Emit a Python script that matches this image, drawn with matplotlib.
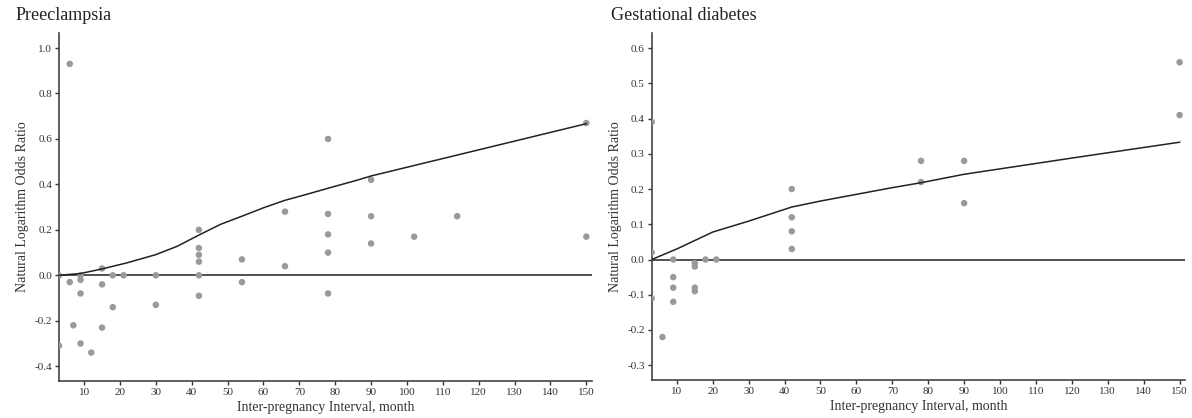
import matplotlib
matplotlib.use("Agg")
import matplotlib.pyplot as plt
import numpy as np

plt.rcParams['font.family'] = ['Liberation Serif', 'DejaVu Serif']

# Preeclampsia data
pe_x = [3, 3, 6, 6, 7, 9, 9, 9, 9, 12, 15, 15, 15, 18, 18, 21, 30, 30,
        42, 42, 42, 42, 42, 42, 54, 54, 66, 66, 78, 78, 78, 78, 78,
        90, 90, 90, 102, 114, 150, 150]
pe_y = [0.0, -0.31, 0.93, -0.03, -0.22, 0.0, -0.02, -0.08, -0.30, -0.34,
        0.03, -0.04, -0.23, 0.0, -0.14, 0.0, 0.0, -0.13,
        0.20, 0.12, 0.09, 0.06, 0.0, -0.09, 0.07, -0.03, 0.28, 0.04,
        0.60, 0.27, 0.18, 0.10, -0.08, 0.42, 0.26, 0.14, 0.17, 0.26, 0.67, 0.17]
pe_curve_x = [3, 9, 15, 22, 30, 36, 42, 48, 54, 60, 66, 72, 78, 86, 90, 120, 150]
pe_curve_y = [0.0, 0.008, 0.028, 0.055, 0.091, 0.128, 0.177, 0.224, 0.26, 0.297,
              0.33, 0.356, 0.383, 0.418, 0.437, 0.552, 0.667]

# Gestational diabetes data
gd_x = [3, 3, 3, 6, 9, 9, 9, 9, 15, 15, 15, 15, 18, 21, 42, 42, 42, 42,
        78, 78, 90, 90, 150, 150]
gd_y = [0.39, 0.02, -0.11, -0.22, 0.0, -0.05, -0.08, -0.12, -0.01, -0.02, -0.08, -0.09,
        0.0, 0.0, 0.20, 0.12, 0.08, 0.03, 0.28, 0.22, 0.28, 0.16, 0.56, 0.41]
gd_curve_x = [3, 10, 20, 30, 42, 50, 60, 70, 78, 90, 120, 150]
gd_curve_y = [0.0, 0.03, 0.078, 0.109, 0.149, 0.166, 0.185, 0.204, 0.218, 0.242, 0.288, 0.333]

x_ticks = [10, 20, 30, 40, 50, 60, 70, 80, 90, 100, 110, 120, 130, 140, 150]
pe_yticks = [-0.4, -0.2, 0.0, 0.2, 0.4, 0.6, 0.8, 1.0]
gd_yticks = [-0.3, -0.2, -0.1, 0.0, 0.1, 0.2, 0.3, 0.4, 0.5, 0.6]

fig = plt.figure(figsize=(11.92, 4.18), dpi=100)
ax1 = fig.add_axes([59/1192, 1-381/418, 532.7/1192, 348/418])
ax2 = fig.add_axes([651.7/1192, 1-380/418, 533.3/1192, 347/418])

def style(ax, xs, ys, cx, cy, yticks, ylim, title, title_x):
    ax.scatter(xs, ys, s=22, color='#9a9a9a', edgecolors='none', zorder=3)
    ax.plot(cx, cy, color='#222222', lw=1.1, zorder=4)
    ax.axhline(0, color='#222222', lw=1.1, zorder=2)
    ax.set_xlim(3, 151.5)
    ax.set_ylim(*ylim)
    ax.set_xticks(x_ticks)
    ax.set_yticks(yticks)
    ax.set_yticklabels([f"{v:.1f}" for v in yticks])
    ax.tick_params(labelsize=8, colors='#333333', length=3, width=1, direction='out', pad=2)
    for s in ['top', 'right']:
        ax.spines[s].set_visible(False)
    for s in ['left', 'bottom']:
        ax.spines[s].set_color('#444444')
        ax.spines[s].set_linewidth(1.2)
    ax.set_xlabel('Inter-pregnancy Interval, month', fontsize=10, color='#333333', labelpad=3)
    ax.set_ylabel('Natural Logarithm Odds Ratio', fontsize=10, color='#333333', labelpad=4)
    fig.text(title_x, 1-15/418, title, fontsize=13, color='#222222', va='center', ha='left')

style(ax1, pe_x, pe_y, pe_curve_x, pe_curve_y, pe_yticks, (-0.465, 1.066), 'Preeclampsia', 16/1192)
style(ax2, gd_x, gd_y, gd_curve_x, gd_curve_y, gd_yticks, (-0.342, 0.643), 'Gestational diabetes', 611/1192)

fig.savefig('out.png', dpi=100)
